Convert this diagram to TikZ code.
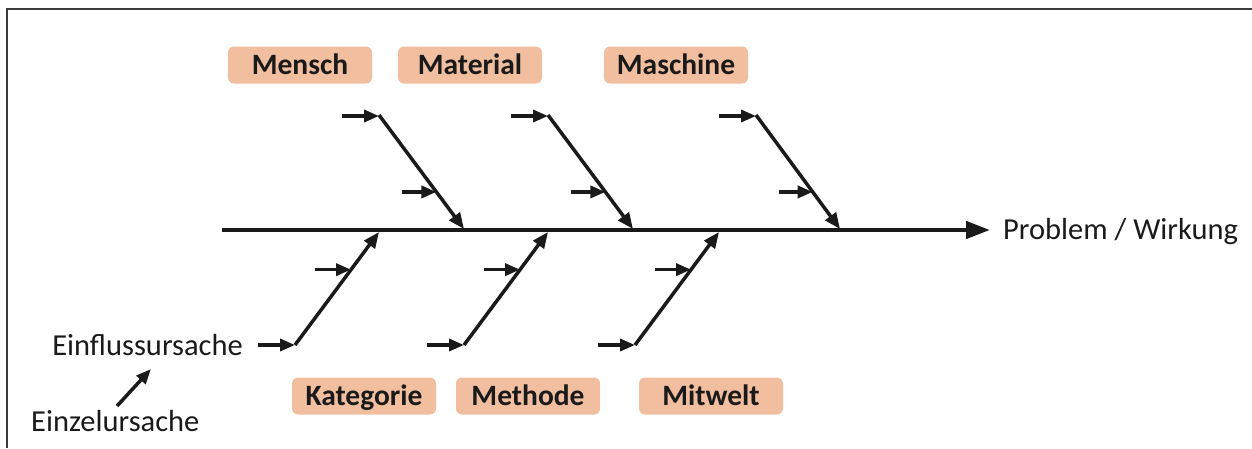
\documentclass[tikz,border=0pt]{standalone}
\usepackage{fontspec}
\setmainfont{Carlito}
\usetikzlibrary{arrows.meta,calc}
\definecolor{peach}{RGB}{241,190,160}
\definecolor{ink}{RGB}{26,26,26}
\definecolor{framecol}{RGB}{60,60,60}
\begin{document}
\begin{tikzpicture}[x=1pt,y=-1pt,
  catbox/.style={fill=peach, rounded corners=6pt, minimum width=144pt, minimum height=37pt, inner sep=0pt, text height=24pt, text depth=5pt, text=ink, font=\fontsize{29.5}{33}\selectfont\bfseries},
  lbl/.style={inner sep=0pt, text=ink, font=\fontsize{30.5}{35}\selectfont},
  spine/.style={draw=ink, line width=4.5pt, -{Triangle[length=24pt,width=17pt]}},
  bone/.style={draw=ink, line width=3.5pt, -{Triangle[length=16pt,width=13pt]}},
  subarrow/.style={draw=ink, line width=3.5pt, -{Triangle[length=15pt,width=12pt]}}]
\useasboundingbox (0,0) rectangle (1252,448);
% frame
\draw[framecol, line width=1.5pt] (7,448) -- (7,9) -- (1252,9);
% spine
\coordinate (s0) at (222,230);
\coordinate (s1) at (990,230);
\draw[spine] (s0) -- (s1);
\node[lbl, anchor=base west] (eff) at (1003,239) {Problem / Wirkung};
% category boxes
\node[catbox] (mensch) at (300,65) {Mensch};
\node[catbox] (material) at (470,65) {Material};
\node[catbox] (maschine) at (676,65) {Maschine};
\node[catbox] (kategorie) at (364,396) {Kategorie};
\node[catbox] (methode) at (528,396) {Methode};
\node[catbox] (mitwelt) at (711,396) {Mitwelt};
% top bones
\foreach \i/\tx/\bx in {1/379/464, 2/548/633, 3/756/840} {
  \coordinate (T\i) at (\tx,115);
  \coordinate (B\i) at (\bx,229);
  \coordinate (M\i) at ($(T\i)!0.675!(B\i)$);
  \coordinate (TA\i) at ($(T\i)+(-37,1)$);
  \coordinate (MA\i) at ($(M\i)+(-34,0)$);
  \draw[bone] (T\i) -- (B\i);
  \draw[subarrow] (TA\i) -- ($(T\i)+(0,1)$);
  \draw[subarrow] (MA\i) -- (M\i);
}
% bottom bones
\foreach \i/\px/\qx in {4/295/379, 5/464/548, 6/635/719} {
  \coordinate (P\i) at (\px,345);
  \coordinate (Q\i) at (\qx,232);
  \coordinate (N\i) at ($(P\i)!0.667!(Q\i)$);
  \coordinate (PA\i) at ($(P\i)+(-37,0)$);
  \coordinate (NA\i) at ($(N\i)+(-36,0)$);
  \draw[bone] (P\i) -- (Q\i);
  \draw[subarrow] (PA\i) -- (P\i);
  \draw[subarrow] (NA\i) -- (N\i);
}
% legend
\node[lbl, anchor=base east] (einfl) at (243,355) {Einflussursache};
\node[lbl, anchor=base west] (einz) at (31,431) {Einzelursache};
\coordinate (ez1) at (117,406);
\coordinate (ez2) at (151,369);
\draw[subarrow] (ez1) -- (ez2);
\end{tikzpicture}
\end{document}
